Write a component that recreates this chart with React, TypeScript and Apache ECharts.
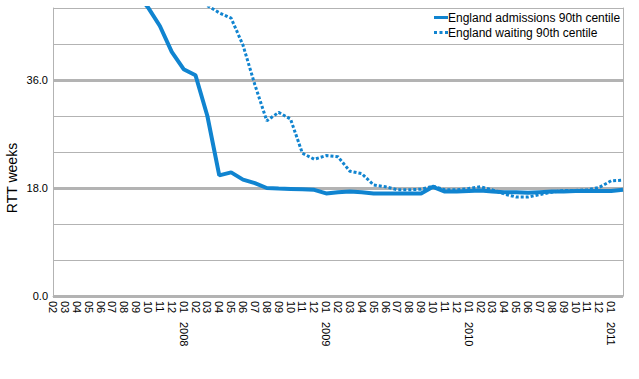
import React, { useEffect, useRef } from "react";
import * as echarts from "echarts";

const categories = [
  "2007-02", "2007-03", "2007-04", "2007-05", "2007-06", "2007-07", "2007-08", "2007-09", "2007-10", "2007-11", "2007-12",
  "2008-01", "2008-02", "2008-03", "2008-04", "2008-05", "2008-06", "2008-07", "2008-08", "2008-09", "2008-10", "2008-11", "2008-12",
  "2009-01", "2009-02", "2009-03", "2009-04", "2009-05", "2009-06", "2009-07", "2009-08", "2009-09", "2009-10", "2009-11", "2009-12",
  "2010-01", "2010-02", "2010-03", "2010-04", "2010-05", "2010-06", "2010-07", "2010-08", "2010-09", "2010-10", "2010-11", "2010-12",
  "2011-01", "2011-02",
];

const admissions = [
  58, 57, 56, 55, 54, 53, 52, 50.5, 48.1, 45.0, 40.7,
  37.8, 36.8, 30.0, 20.1, 20.6, 19.4, 18.8, 18.0, 17.9, 17.85, 17.8, 17.7,
  17.1, 17.3, 17.4, 17.3, 17.1, 17.1, 17.1, 17.1, 17.1, 18.2, 17.4, 17.4,
  17.5, 17.6, 17.4, 17.3, 17.3, 17.2, 17.3, 17.4, 17.4, 17.5, 17.5, 17.5,
  17.5, 17.7,
];

const waiting = [
  62, 61, 60, 59, 58, 57, 56, 55, 54, 53, 52,
  51, 50, 48.4, 47.2, 46.3, 41.8, 35.2, 29.2, 30.6, 29.5, 23.8, 22.8,
  23.4, 23.2, 20.8, 20.4, 18.5, 18.2, 17.7, 17.7, 17.8, 18.3, 17.7, 17.7,
  17.9, 18.2, 17.7, 17.0, 16.5, 16.5, 16.9, 17.3, 17.6, 17.6, 17.7, 18.1,
  19.2, 19.3,
];

const seriesNames = ["England admissions 90th centile", "England waiting 90th centile"];
const yLabelValues = [0, 18, 36];

const FONT = '"Liberation Sans", Arial, Helvetica, sans-serif';
const BLUE = "#1084d0";
const GRAY = "#b3b3b3";

export default function App() {
  const ref = useRef<HTMLDivElement>(null);
  useEffect(() => {
    if (!ref.current) return;
    const chart = echarts.init(ref.current, null, { renderer: "svg" });
    chart.setOption({
      animation: false,
      textStyle: { fontFamily: FONT },
      grid: { left: 53, right: 16, top: 8, bottom: 83, containLabel: false },
      legend: {
        data: [
          { name: seriesNames[0], icon: "path://M0,0h14v3H0z" },
          { name: seriesNames[1], icon: "path://M0,0h3v3H0zM5.5,0h3v3h-3zM11,0h3v3h-3z" },
        ],
        orient: "vertical",
        left: 429,
        top: 6.5,
        itemWidth: 14,
        itemHeight: 3,
        itemGap: 3,
        textStyle: { fontSize: 12, color: "#000", fontFamily: FONT, padding: [0, 0, 0, -5] },
      },
      xAxis: [
        {
          type: "category",
          data: categories,
          boundaryGap: false,
          axisLine: { show: true, lineStyle: { color: GRAY, width: 1 } },
          axisTick: { show: false },
          splitLine: { show: false },
          axisLabel: {
            interval: 0,
            rotate: -90,
            margin: 5,
            fontSize: 11,
            color: "#000",
            fontFamily: FONT,
            formatter: (v: string, i: number) => (i === categories.length - 1 ? "" : v.slice(5)),
          },
        },
        {
          type: "category",
          data: categories,
          boundaryGap: false,
          position: "bottom",
          axisLine: { show: false },
          axisTick: { show: false },
          splitLine: { show: false },
          axisLabel: {
            interval: 0,
            rotate: -90,
            margin: 26,
            fontSize: 11,
            color: "#000",
            fontFamily: FONT,
            formatter: (v: string) => (v.slice(5) === "01" ? v.slice(0, 4) : ""),
          },
        },
      ],
      yAxis: [
        {
          type: "value",
          min: 0,
          max: 48,
          interval: 6,
          axisLine: { show: true, lineStyle: { color: GRAY, width: 1 } },
          axisTick: { show: false },
          splitLine: { show: true, lineStyle: { color: GRAY, width: 1 } },
          axisLabel: {
            fontSize: 11,
            color: "#000",
            margin: 5,
            fontFamily: FONT,
            formatter: (v: number) => (yLabelValues.indexOf(v) >= 0 ? v.toFixed(1) : ""),
          },
        },
        {
          type: "value",
          min: 0,
          max: 48,
          interval: 18,
          position: "right",
          axisLine: { show: true, lineStyle: { color: GRAY, width: 1 } },
          axisTick: { show: false },
          axisLabel: { show: false },
          splitLine: {
            show: true,
            lineStyle: { color: [GRAY, GRAY, GRAY, "rgba(0,0,0,0)"], width: 3 },
          },
        },
      ],
      graphic: [
        {
          type: "text",
          x: 12,
          y: 178,
          rotation: Math.PI / 2,
          style: {
            text: "RTT weeks",
            fontSize: 14,
            fill: "#000",
            fontFamily: FONT,
            align: "center",
            verticalAlign: "middle",
          },
        },
      ],
      series: [
        {
          name: seriesNames[0],
          type: "line",
          data: admissions,
          symbol: "none",
          showSymbol: false,
          z: 2,
          lineStyle: { color: BLUE, width: 4 },
          itemStyle: { color: BLUE },
        },
        {
          name: seriesNames[1],
          type: "line",
          data: waiting,
          symbol: "none",
          showSymbol: false,
          z: 3,
          lineStyle: { color: BLUE, width: 3, type: [3, 2] },
          itemStyle: { color: BLUE },
        },
      ],
    });
    return () => chart.dispose();
  }, []);
  return (
    <div
      ref={ref}
      style={{ position: "absolute", left: 0, top: 0, width: 639, height: 379 }}
    />
  );
}
